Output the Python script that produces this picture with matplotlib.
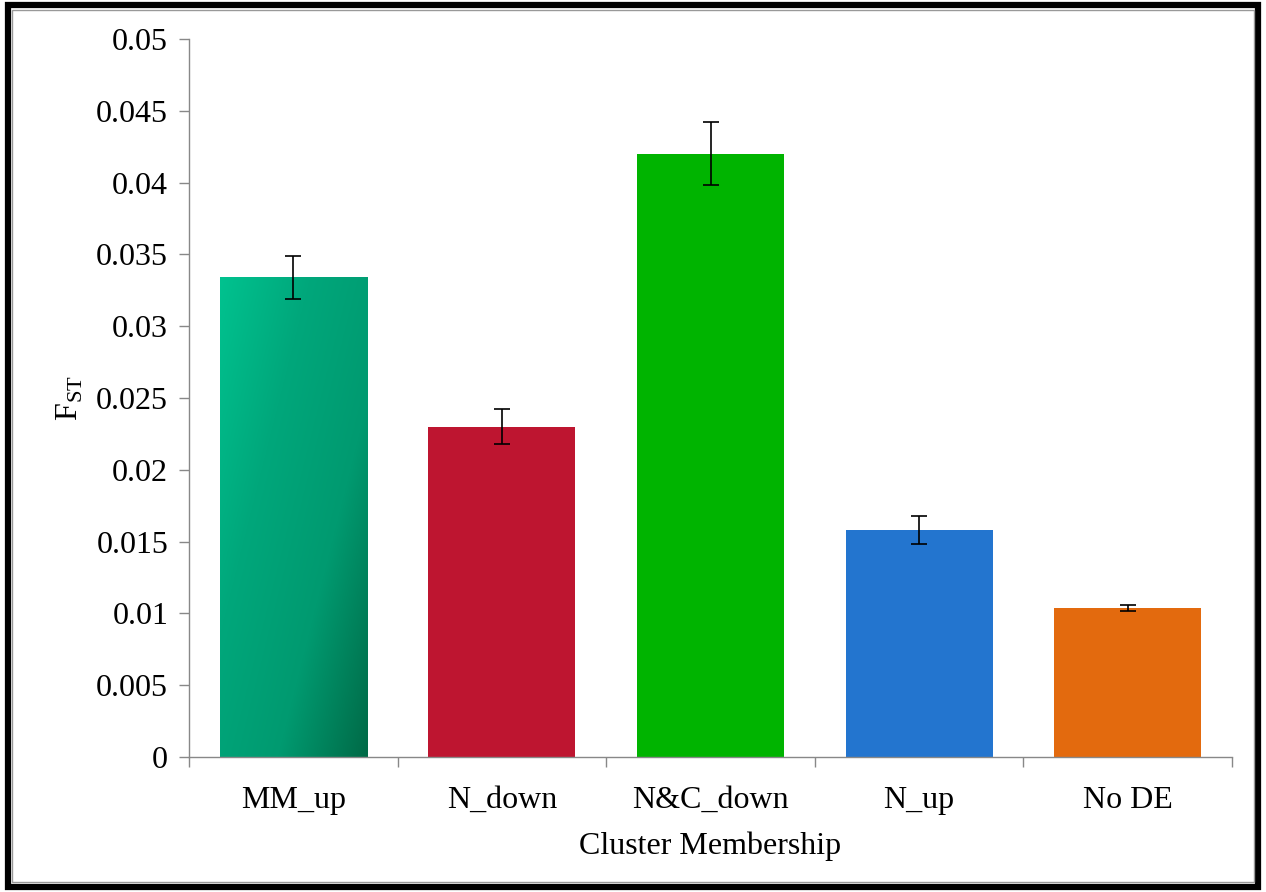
import numpy as np
import matplotlib
matplotlib.use("Agg")
import matplotlib.pyplot as plt
from matplotlib.patches import Rectangle
from matplotlib.colors import LinearSegmentedColormap

categories = ["MM_up", "N_down", "N&C_down", "N_up", "No DE"]
values = [0.0334, 0.0230, 0.0420, 0.0158, 0.0104]
errors = [0.0015, 0.0012, 0.0022, 0.0010, 0.0002]
colors = ["#00A57A", "#BE1530", "#00B400", "#2375CF", "#E36A0E"]
yticks = [0, 0.005, 0.01, 0.015, 0.02, 0.025, 0.03, 0.035, 0.04, 0.045, 0.05]
ytick_labels = ["0", "0.005", "0.01", "0.015", "0.02", "0.025", "0.03", "0.035", "0.04", "0.045", "0.05"]

plt.rcParams['font.family'] = ['Liberation Serif', 'DejaVu Serif']
plt.rcParams['mathtext.fontset'] = 'custom'
plt.rcParams['mathtext.rm'] = 'Liberation Serif'

W, H = 1266, 892
fig = plt.figure(figsize=(W / 100, H / 100), dpi=100)
left, right, top, bottom = 189, 1232, 39, 757
ax = fig.add_axes([left / W, (H - bottom) / H, (right - left) / W, (bottom - top) / H])

x = np.arange(len(categories))
bars = ax.bar(x, values, width=0.705, color=colors, zorder=2)

# gradient for first bar
grad_cmap = LinearSegmentedColormap.from_list("g", ["#00C28F", "#00A77B", "#009A70", "#006A47"])
b0 = bars[0]
bx0, by0 = b0.get_x(), b0.get_y()
bw, bh = b0.get_width(), b0.get_height()
gx, gy = np.meshgrid(np.linspace(0, 1, 200), np.linspace(0, 1, 200))
gval = np.clip(0.55 * gx + 0.45 * (1 - gy), 0, 1)
im = ax.imshow(gval, cmap=grad_cmap, extent=[bx0, bx0 + bw, by0, by0 + bh],
               origin='lower', aspect='auto', zorder=2.1, vmin=0, vmax=1)
im.set_clip_path(b0)

ax.errorbar(x, values, yerr=errors, fmt='none', ecolor='black', elinewidth=1.2,
            capsize=5.5, capthick=1.2, zorder=3)

ax.set_xlim(-0.5, len(categories) - 0.5)
ax.set_ylim(0, 0.05)
ax.set_yticks(yticks)
ax.set_yticklabels(ytick_labels)
ax.set_xticks(x)
ax.set_xticklabels(categories)
ax.set_xticks(np.arange(len(categories) + 1) - 0.5, minor=True)
ax.tick_params(axis='x', which='major', length=0, pad=21, labelsize=23)
ax.tick_params(axis='x', which='minor', length=7, direction='out', color='#888888', width=1)
ax.tick_params(axis='y', length=7, direction='out', color='#888888', width=1, labelsize=23, pad=8)

for s in ['top', 'right']:
    ax.spines[s].set_visible(False)
for s in ['left', 'bottom']:
    ax.spines[s].set_color('#888888')
    ax.spines[s].set_linewidth(1)

ax.set_xlabel("Cluster Membership", fontsize=23, labelpad=12)
ax.set_ylabel(r"F$_{\mathrm{ST}}$", fontsize=23, labelpad=8)

# frame around figure
fig.patches.append(Rectangle((0.006, 0.006), 0.988, 0.988, transform=fig.transFigure,
                             fill=False, edgecolor='black', linewidth=4.5))
fig.patches.append(Rectangle((0.0095, 0.011), 0.981, 0.978, transform=fig.transFigure,
                             fill=False, edgecolor='#999999', linewidth=1))

fig.savefig("out.png", dpi=100)
